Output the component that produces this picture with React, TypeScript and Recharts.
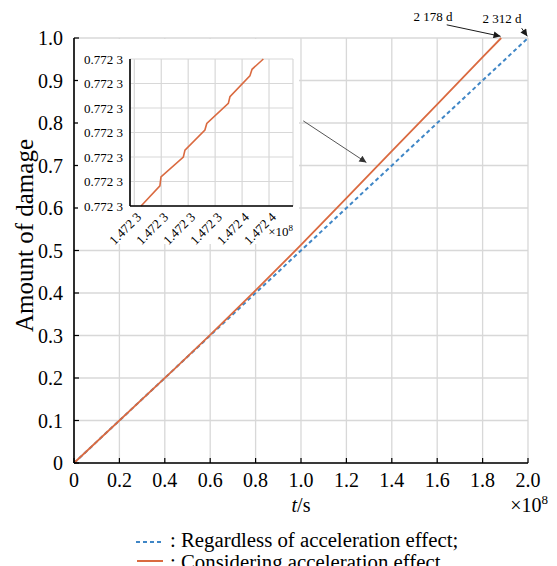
import React from 'react';
import {
  LineChart,
  Line,
  XAxis,
  YAxis,
  CartesianGrid,
  ReferenceLine,
  ReferenceDot,
} from 'recharts';

const FONT = '"Liberation Serif", "DejaVu Serif", "Noto Serif", serif';

// ---- main chart data (t in units of 1e8 s) ----
const regardlessT = [0, 2.0];
const regardlessD = [0, 1.0];
const consideringT = [0, 0.45, 0.6, 0.8, 1.0, 1.2, 1.4, 1.6, 1.8, 1.882];
const consideringD = [0, 0.225, 0.3015, 0.406, 0.513, 0.623, 0.734, 0.844, 0.955, 1.0];

const xTicks = [0, 0.2, 0.4, 0.6, 0.8, 1.0, 1.2, 1.4, 1.6, 1.8, 2.0];
const xTickLabels = ['0', '0.2', '0.4', '0.6', '0.8', '1.0', '1.2', '1.4', '1.6', '1.8', '2.0'];
const yTicks = [0, 0.1, 0.2, 0.3, 0.4, 0.5, 0.6, 0.7, 0.8, 0.9, 1.0];
const yTickLabels = ['0', '0.1', '0.2', '0.3', '0.4', '0.5', '0.6', '0.7', '0.8', '0.9', '1.0'];

// ---- inset (zoomed) data, in tick-index units ----
const insetX = [1.25, 1.95, 1.99, 2.82, 2.88, 3.62, 3.69, 4.49, 4.55, 5.29, 5.37, 5.79];
const insetY = [0, 0.82, 1.19, 2.0, 2.28, 3.1, 3.37, 4.19, 4.46, 5.31, 5.58, 6.0];
const insetXTicks = [1, 2, 3, 4, 5, 6];
const insetXTickLabels = ['1.472 3', '1.472 3', '1.472 3', '1.472 3', '1.472 4', '1.472 4'];
const insetYTicks = [0, 1, 2, 3, 4, 5, 6];
const insetYTickLabels = ['0.772 3', '0.772 3', '0.772 3', '0.772 3', '0.772 3', '0.772 3', '0.772 3'];

// ---- annotations ----
const endDays = ['2 178 d', '2 312 d'];

const regardlessData = regardlessT.map((t, i) => ({ t, d: regardlessD[i] }));
const consideringData = consideringT.map((t, i) => ({ t, d: consideringD[i] }));
const insetData = insetX.map((x, i) => ({ x, y: insetY[i] }));

const BLUE = '#3F86C6';
const ORANGE = '#DA6A40';
const GRID = '#D8D8D8';

const fmtX = (v: number) => xTickLabels[xTicks.findIndex((t) => Math.abs(t - v) < 1e-9)] ?? String(v);
const fmtY = (v: number) => yTickLabels[yTicks.findIndex((t) => Math.abs(t - v) < 1e-9)] ?? String(v);
const fmtIY = (v: number) => insetYTickLabels[insetYTicks.indexOf(v)] ?? '';

const XLabel = (props: any) => {
  const vb = props.viewBox || {};
  const { x = 0, y = 0, width = 0, height = 0 } = vb;
  return (
    <g>
      <text
        x={x + width / 2}
        y={y + height + 19}
        textAnchor="middle"
        fontSize={20}
        fontFamily={FONT}
        fill="#000"
      >
        <tspan fontStyle="italic">t</tspan>/s
      </text>
      <text x={x + width + 20} y={y + height + 19} textAnchor="end" fontSize={20} fontFamily={FONT} fill="#000">
        ×10
        <tspan dy={-8} fontSize={13}>
          8
        </tspan>
      </text>
    </g>
  );
};

const YLabel = (props: any) => {
  const vb = props.viewBox || {};
  const { x = 0, y = 0, height = 0 } = vb;
  const cx = x + 24;
  const cy = y + height / 2 - 15;
  return (
    <text
      x={cx}
      y={cy}
      transform={`rotate(-90, ${cx}, ${cy})`}
      textAnchor="middle"
      dominantBaseline="central"
      fontSize={25}
      fontFamily={FONT}
      fill="#000"
    >
      Amount of damage
    </text>
  );
};

const InsetXTick = (props: any) => {
  const { x, y, payload } = props;
  const idx = insetXTicks.indexOf(payload.value);
  return (
    <g transform={`translate(${x + 5},${y + 7})`}>
      <text textAnchor="end" transform="rotate(-45)" fontSize={13} fontFamily={FONT} fill="#000" dy={4}>
        {insetXTickLabels[idx]}
      </text>
    </g>
  );
};

const InsetMultiplier = (props: any) => {
  const vb = props.viewBox || {};
  const { x = 0, y = 0, width = 0 } = vb;
  return (
    <text x={x + width} y={y + 30} textAnchor="end" fontSize={13} fontFamily={FONT} fill="#000">
      ×10
      <tspan dy={-5} fontSize={9}>
        8
      </tspan>
    </text>
  );
};

const axisLine = { stroke: '#000', strokeWidth: 1.6 };
const tickLine = { stroke: '#000', strokeWidth: 1.2 };

export default function App() {
  return (
    <div style={{ position: 'absolute', left: 0, top: 0, width: 557, height: 566, background: '#fff' }}>
      <LineChart width={557} height={566} margin={{ top: 38, right: 29, bottom: 73, left: 0 }}>
        <defs>
          <marker
            id="arrowHead"
            viewBox="0 0 10 10"
            refX="10"
            refY="5"
            markerWidth="9"
            markerHeight="7"
            markerUnits="userSpaceOnUse"
            orient="auto"
          >
            <path d="M0,0 L10,5 L0,10 z" fill="#1a1a1a" />
          </marker>
          <marker
            id="arrowHeadGray"
            viewBox="0 0 10 10"
            refX="10"
            refY="5"
            markerWidth="10"
            markerHeight="7"
            markerUnits="userSpaceOnUse"
            orient="auto"
          >
            <path d="M0,0 L10,5 L0,10 z" fill="#333" />
          </marker>
        </defs>
        <CartesianGrid stroke={GRID} strokeWidth={1.3} />
        <XAxis
          dataKey="t"
          type="number"
          domain={[0, 2]}
          ticks={xTicks}
          tickFormatter={fmtX}
          height={30}
          tickSize={-5}
          tickMargin={15}
          axisLine={axisLine}
          tickLine={tickLine}
          tick={{ fill: '#000', fontSize: 20, fontFamily: FONT }}
          interval={0}
          label={{ content: XLabel }}
        />
        <XAxis
          xAxisId="top"
          orientation="top"
          type="number"
          domain={[0, 2]}
          ticks={xTicks}
          height={0}
          tickSize={-5}
          tick={false}
          axisLine={axisLine}
          tickLine={tickLine}
          interval={0}
        />
        <YAxis
          type="number"
          domain={[0, 1]}
          ticks={yTicks}
          tickFormatter={fmtY}
          width={74}
          tickSize={-5}
          tickMargin={16}
          axisLine={axisLine}
          tickLine={tickLine}
          tick={{ fill: '#000', fontSize: 20, fontFamily: FONT }}
          interval={0}
          label={{ content: YLabel }}
        />
        <YAxis
          yAxisId="right"
          orientation="right"
          type="number"
          domain={[0, 1]}
          ticks={yTicks}
          width={0}
          tickSize={-5}
          tick={false}
          axisLine={axisLine}
          tickLine={tickLine}
          interval={0}
        />
        <Line
          data={regardlessData}
          dataKey="d"
          type="linear"
          stroke={BLUE}
          strokeWidth={2}
          strokeDasharray="4 3"
          dot={false}
          activeDot={false}
          isAnimationActive={false}
        />
        <Line
          data={consideringData}
          dataKey="d"
          type="linear"
          stroke={ORANGE}
          strokeWidth={1.8}
          dot={false}
          activeDot={false}
          isAnimationActive={false}
        />
        <ReferenceLine
          segment={[
            { x: 1.642, y: 1.031 },
            { x: 1.879, y: 1.004 },
          ]}
          stroke="#1a1a1a"
          strokeWidth={1}
          markerEnd="url(#arrowHead)"
          ifOverflow="visible"
        />
        <ReferenceLine
          segment={[
            { x: 1.972, y: 1.023 },
            { x: 1.997, y: 1.004 },
          ]}
          stroke="#1a1a1a"
          strokeWidth={1}
          markerEnd="url(#arrowHead)"
          ifOverflow="visible"
        />
        <ReferenceLine
          segment={[
            { x: 1.01, y: 0.805 },
            { x: 1.288, y: 0.707 },
          ]}
          stroke="#555"
          strokeWidth={1}
          markerEnd="url(#arrowHeadGray)"
          ifOverflow="visible"
        />
        <ReferenceDot
          x={1.581}
          y={1.052}
          r={0}
          fill="none"
          stroke="none"
          ifOverflow="visible"
          label={{ value: endDays[0], position: 'center', fontSize: 13, fontFamily: FONT, fill: '#000' }}
        />
        <ReferenceDot
          x={1.885}
          y={1.046}
          r={0}
          fill="none"
          stroke="none"
          ifOverflow="visible"
          label={{ value: endDays[1], position: 'center', fontSize: 13, fontFamily: FONT, fill: '#000' }}
        />
      </LineChart>

      {/* inset: white backing + zoomed chart */}
      <div style={{ position: 'absolute', left: 78, top: 39, width: 221, height: 205, background: '#fff' }} />
      <div style={{ position: 'absolute', left: 78, top: 39, width: 221, height: 215 }}>
        <LineChart width={221} height={215} data={insetData} margin={{ top: 20, right: 6, bottom: 10, left: 0 }}>
          <CartesianGrid stroke={GRID} strokeWidth={1.2} />
          <XAxis
            dataKey="x"
            type="number"
            domain={[0.84, 6.89]}
            ticks={insetXTicks}
            height={38}
            tickSize={0}
            tickLine={false}
            axisLine={axisLine}
            tick={<InsetXTick />}
            interval={0}
            label={{ content: InsetMultiplier }}
          />
          <XAxis
            xAxisId="top"
            orientation="top"
            type="number"
            domain={[0.84, 6.89]}
            ticks={insetXTicks}
            height={0}
            tick={false}
            tickLine={false}
            axisLine={axisLine}
          />
          <YAxis
            type="number"
            domain={[0, 6]}
            ticks={insetYTicks}
            tickFormatter={fmtIY}
            width={52}
            tickSize={0}
            tickMargin={7}
            tickLine={false}
            axisLine={axisLine}
            tick={{ fill: '#000', fontSize: 13, fontFamily: FONT }}
            interval={0}
          />
          <YAxis
            yAxisId="right"
            orientation="right"
            type="number"
            domain={[0, 6]}
            ticks={insetYTicks}
            width={0}
            tick={false}
            tickLine={false}
            axisLine={axisLine}
          />
          <Line
            dataKey="y"
            type="linear"
            stroke={ORANGE}
            strokeWidth={1.6}
            dot={false}
            activeDot={false}
            isAnimationActive={false}
          />
        </LineChart>
      </div>

      {/* legend */}
      <div
        style={{
          position: 'absolute',
          left: 135,
          top: 529,
          fontFamily: FONT,
          fontSize: 20.8,
          lineHeight: '21.5px',
          color: '#000',
          whiteSpace: 'nowrap',
        }}
      >
        <div style={{ display: 'flex', alignItems: 'center', height: 21.5 }}>
          <svg width={30} height={21} style={{ display: 'block' }}>
            <line x1={1} y1={13} x2={28} y2={13} stroke={BLUE} strokeWidth={2} strokeDasharray="4 3" />
          </svg>
          <span style={{ marginLeft: 5 }}>: Regardless of acceleration effect;</span>
        </div>
        <div style={{ display: 'flex', alignItems: 'center', height: 21.5 }}>
          <svg width={30} height={21} style={{ display: 'block' }}>
            <line x1={2} y1={10} x2={28} y2={10} stroke={ORANGE} strokeWidth={2} />
          </svg>
          <span style={{ marginLeft: 5 }}>: Considering acceleration effect.</span>
        </div>
      </div>
    </div>
  );
}
